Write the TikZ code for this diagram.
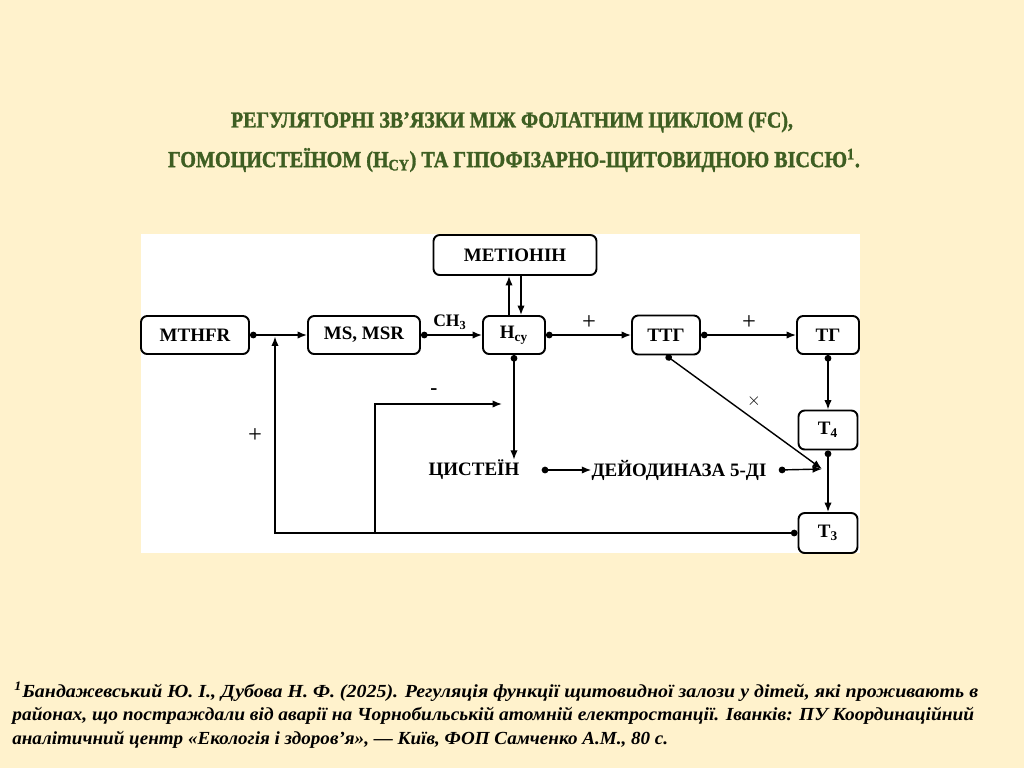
\documentclass[tikz,border=0pt]{standalone}
\usepackage{fontspec}
\setmainfont{Liberation Serif}
\newfontfamily\titfont[BoldFeatures={FakeBold=1.6}]{Liberation Serif}
\usepackage{graphicx}
\usetikzlibrary{arrows.meta,calc}

\definecolor{sfondo}{RGB}{255,242,204}
\definecolor{titolo}{RGB}{62,94,34}

\tikzset{
    blocco/.style={draw, line width=1.1pt, rounded corners=3.5pt, fill=white,
        inner sep=0pt, font=\fontsize{10.8}{12}\selectfont\bfseries},
    etich/.style={inner sep=0pt, font=\fontsize{10.8}{12}\selectfont\bfseries},
    segno/.style={inner sep=0pt, font=\fontsize{14}{15}\selectfont},
    freccia/.style={line width=0.8pt, -{Latex[length=5.4pt,width=4.2pt]}},
    pfreccia/.style={line width=0.8pt, {Circle[length=3.8pt]}-{Latex[length=5.4pt,width=4.2pt]}},
    nota/.style={anchor=west, inner sep=0pt, font=\fontsize{10.5}{12}\selectfont\bfseries\itshape}
}

\begin{document}
\begin{tikzpicture}[x=0.02cm,y=-0.02cm]

    % Sfondo
    \fill[sfondo] (0,0) rectangle (1024,768);
    \fill[white] (141,234) rectangle (860,553);

    % Titolo
    \node[text=titolo, font=\titfont\fontsize{13}{15}\selectfont\bfseries] (tit1) at (512,122)
    {\resizebox{11.24cm}{\height}{РЕГУЛЯТОРНІ ЗВ’ЯЗКИ МІЖ ФОЛАТНИМ ЦИКЛОМ (FC),}};
    \node[text=titolo, font=\titfont\fontsize{13}{15}\selectfont\bfseries] (tit2) at (514,160)
    {\resizebox{13.84cm}{\height}{ГОМОЦИСТЕЇНОМ (H\textsubscript{CY}) ТА ГІПОФІЗАРНО-ЩИТОВИДНОЮ ВІССЮ\textsuperscript{1}.}};

    % Blocchi
    \node[blocco, minimum width=2.16cm, minimum height=0.76cm] (mthfr) at (195,335) {MTHFR};
    \node[blocco, minimum width=2.24cm, minimum height=0.76cm] (ms) at (364,335) {MS, MSR};
    \node[blocco, minimum width=1.24cm, minimum height=0.76cm] (hcy) at (514,335) {H\textsubscript{cy}};
    \node[blocco, minimum width=3.26cm, minimum height=0.80cm] (met) at (515,255) {МЕТІОНІН};
    \node[blocco, minimum width=1.36cm, minimum height=0.78cm] (ttg) at (666,335) {ТТГ};
    \node[blocco, minimum width=1.24cm, minimum height=0.76cm] (tg) at (828,335) {ТГ};
    \node[blocco, minimum width=1.18cm, minimum height=0.78cm] (t4) at (828,430) {T\textsubscript{4}};
    \node[blocco, minimum width=1.18cm, minimum height=0.80cm] (t3) at (828,533) {T\textsubscript{3}};

    % Testi senza cornice
    \node[etich] (cys) at (474,470) {ЦИСТЕЇН};
    \node[etich] (deio) at (679,470) {ДЕЙОДИНАЗА 5-ДІ};

    % Punti di arrivo
    \coordinate (conv) at (822,469);
    \coordinate (piu) at (275,336.5);
    \coordinate (base) at (375,533);
    \coordinate (meno) at (502,404);
    \coordinate (su) at ($(hcy.north)+(-5,0)$);
    \coordinate (giu) at ($(hcy.north)+(7,0)$);
    \coordinate (cysdot) at ($(cys.east)+(22,0)$);
    \coordinate (deiodot) at ($(deio.east)+(12,0)$);

    % Frecce orizzontali
    \draw[pfreccia] (mthfr) -- (ms);
    \draw[pfreccia] (ms) -- (hcy);
    \draw[pfreccia] (hcy) -- (ttg);
    \draw[pfreccia] (ttg) -- (tg);

    % Frecce verticali
    \draw[freccia] (su) -- (su |- met.south);
    \draw[freccia] (giu |- met.south) -- (giu);
    \draw[pfreccia] (hcy.south) -- (hcy.south |- cys.north);
    \draw[pfreccia] (tg) -- (t4);
    \draw[pfreccia] (t4) -- (t3);

    % Deiodinasi
    \draw[pfreccia] (ttg.south) -- (conv);
    \draw[pfreccia] (cysdot) -- (deio.west);
    \draw[pfreccia] (deiodot) -- (conv);

    % Retroazioni
    \draw[pfreccia] (t3.west) -| (piu);
    \draw[freccia] (base) |- (meno);

    % Segni
    \node[etich, font=\fontsize{10}{11}\selectfont\bfseries] (ch3) at (450,322) {CH\textsubscript{3}};
    \node[segno] (p1) at (589,323) {+};
    \node[segno] (p2) at (749,323) {+};
    \node[segno] (p3) at (255,436) {+};
    \node[segno, font=\fontsize{12}{13}\selectfont\bfseries] (m1) at (434,392) {-};
    \node[segno, font=\fontsize{10}{11}\selectfont] (x1) at (754,401) {$\times$};

    % Nota
    \node[nota] (n1) at (14,692)
    {\resizebox{19.28cm}{\height}{\textsuperscript{1}Бандажевський Ю. І., Дубова Н. Ф. (2025). Регуляція функції щитовидної залози у дітей, які проживають в}};
    \node[nota] (n2) at (12,716)
    {\resizebox{19.24cm}{\height}{районах, що постраждали від аварії на Чорнобильській атомній електростанції. Іванків: ПУ Координаційний}};
    \node[nota] (n3) at (12,740)
    {\resizebox{13.12cm}{\height}{аналітичний центр «Екологія і здоров’я», — Київ, ФОП Самченко А.М., 80 с.}};

\end{tikzpicture}
\end{document}
